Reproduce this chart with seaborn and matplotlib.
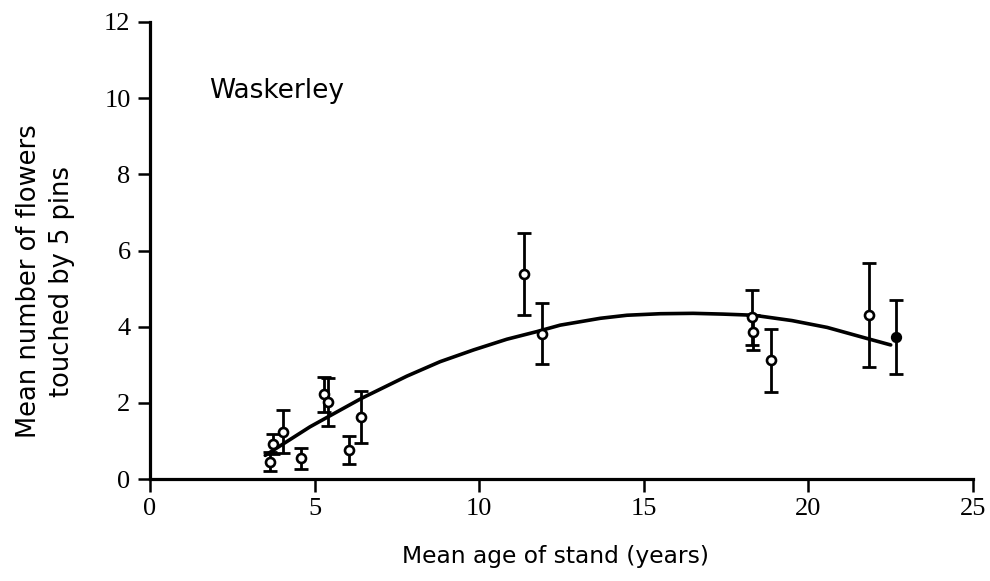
import numpy as np
import pandas as pd
import matplotlib
matplotlib.use("Agg")
import matplotlib.pyplot as plt
import seaborn as sns

# ---- data ----
age = [3.65, 3.73, 4.05, 4.58, 5.30, 5.42, 6.03, 6.41, 11.35, 11.92,
       18.29, 18.31, 18.87, 21.84, 22.66]
flowers = [0.45, 0.92, 1.24, 0.54, 2.22, 2.02, 0.76, 1.62, 5.38, 3.82,
           4.25, 3.85, 3.12, 4.30, 3.74]
err = [0.25, 0.26, 0.57, 0.27, 0.45, 0.64, 0.37, 0.68, 1.07, 0.81,
       0.72, 0.45, 0.83, 1.36, 0.97]
filled = [False, False, False, False, False, False, False, False, False, False,
          False, False, False, False, True]

# fitted curve
curve_x = [3.5, 4.86, 5.78, 6.43, 7.80, 8.81, 9.83, 10.84, 11.75, 12.46,
           13.68, 14.49, 15.5, 16.5, 17.4, 18.34, 19.5, 20.57, 21.78, 22.5]
curve_y = [0.62, 1.37, 1.81, 2.12, 2.70, 3.08, 3.39, 3.67, 3.87, 4.04,
           4.22, 4.30, 4.34, 4.35, 4.33, 4.30, 4.16, 3.98, 3.69, 3.52]

xticks = [0, 5, 10, 15, 20, 25]
yticks = [0, 2, 4, 6, 8, 10, 12]

df = pd.DataFrame({"age": age, "flowers": flowers, "err": err, "filled": filled})
cdf = pd.DataFrame({"x": curve_x, "y": curve_y})

sns.set_theme(style="ticks")
plt.rcParams["font.family"] = ["DejaVu Sans"]

W, H = 990, 581
fig = plt.figure(figsize=(W / 100, H / 100), dpi=100)
ax = fig.add_axes([150 / W, 1 - 479 / H, (973 - 150) / W, (479 - 22) / H])

sns.lineplot(data=cdf, x="x", y="y", ax=ax, color="black", lw=2.6,
             sort=False, legend=False)

ax.errorbar(df["age"], df["flowers"], yerr=df["err"], fmt="none",
            ecolor="black", elinewidth=2.0, capsize=5, capthick=2.0, zorder=3)

open_df = df[~df["filled"]]
fill_df = df[df["filled"]]
sns.scatterplot(data=open_df, x="age", y="flowers", ax=ax, s=42,
                facecolor="white", edgecolor="black", linewidth=1.9,
                zorder=4, legend=False)
sns.scatterplot(data=fill_df, x="age", y="flowers", ax=ax, s=48,
                color="black", edgecolor="black", linewidth=1.2,
                zorder=4, legend=False)

ax.set_xlim(0, 25)
ax.set_ylim(0, 12)
ax.set_xticks(xticks)
ax.set_yticks(yticks)
ax.set_xticklabels([str(t) for t in xticks])
ax.set_yticklabels([str(t) for t in yticks])
for lab in ax.get_xticklabels() + ax.get_yticklabels():
    lab.set_fontfamily("Liberation Serif")
    lab.set_fontsize(19)
    lab.set_color("black")

sns.despine(ax=ax)
for s in ["left", "bottom"]:
    ax.spines[s].set_linewidth(2.3)
    ax.spines[s].set_color("black")
ax.tick_params(axis="both", direction="out", length=9, width=1.8,
               color="black", pad=5)
ax.set_xlabel("")
ax.set_ylabel("")

ax.text(1.8, 10.2, "Waskerley", fontsize=19, va="center", ha="left",
        color="black")

fig.text(555 / W, 1 - 557 / H, "Mean age of stand (years)", fontsize=16.8,
         ha="center", va="center", color="black")
fig.text(46 / W, 1 - 281 / H, "Mean number of flowers\ntouched by 5 pins",
         fontsize=18.5, ha="center", va="center", rotation=90,
         linespacing=1.35, color="black")

fig.savefig("out.png", dpi=100, facecolor="white")
